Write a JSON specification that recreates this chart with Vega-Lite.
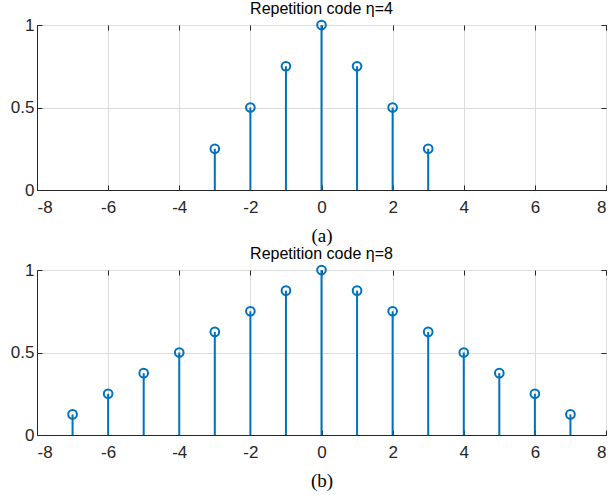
{
  "$schema": "https://vega.github.io/schema/vega-lite/v6.json",
  "background": "white",
  "padding": {"left": 9, "top": 0, "right": 0, "bottom": 0},
  "spacing": -1,
  "config": {
    "view": {"stroke": "#262626", "strokeWidth": 1},
    "axis": {
      "grid": true,
      "gridColor": "#dcdcdc",
      "gridWidth": 1,
      "domainColor": "#262626",
      "tickColor": "#262626",
      "tickSize": -5,
      "labelFont": "Liberation Sans",
      "labelFontSize": 17,
      "labelColor": "#262626",
      "titleFont": "Liberation Serif",
      "titleFontSize": 19,
      "titleFontWeight": "normal",
      "titleColor": "#000000"
    },
    "title": {"font": "Liberation Sans", "fontSize": 16, "fontWeight": "normal", "color": "#000000", "offset": -1}
  },
  "vconcat": [
    {
      "title": "Repetition code η=4",
      "width": 569,
      "height": 165,
      "data": {"values": [
        {"n": -3, "v": 0.25}, {"n": -2, "v": 0.5}, {"n": -1, "v": 0.75}, {"n": 0, "v": 1},
        {"n": 1, "v": 0.75}, {"n": 2, "v": 0.5}, {"n": 3, "v": 0.25}
      ]},
      "layer": [
        {
          "mark": {"type": "rule", "color": "#0072BD", "strokeWidth": 2},
          "encoding": {
            "x": {"field": "n", "type": "quantitative", "scale": {"domain": [-8, 8], "nice": false},
                  "axis": {"title": "(a)", "values": [-8, -6, -4, -2, 0, 2, 4, 6, 8], "labelExpr": "'' + datum.value", "labelPadding": 14, "titlePadding": 11}},
            "y": {"field": "v", "type": "quantitative", "scale": {"domain": [0, 1], "nice": false},
                  "axis": {"title": null, "values": [0, 0.5, 1], "labelExpr": "'' + datum.value", "labelPadding": 8}},
            "y2": {"datum": 0}
          }
        },
        {
          "mark": {"type": "point", "shape": "circle", "filled": false, "size": 75, "strokeWidth": 2, "color": "#0072BD", "opacity": 1},
          "encoding": {
            "x": {"field": "n", "type": "quantitative", "axis": {"orient": "top", "title": null, "labels": false, "grid": false, "domain": false, "values": [-8, -6, -4, -2, 0, 2, 4, 6, 8]}},
            "y": {"field": "v", "type": "quantitative", "axis": {"orient": "right", "title": null, "labels": false, "grid": false, "domain": false, "values": [0, 0.5, 1]}}
          }
        }
      ],
      "resolve": {"axis": {"x": "independent", "y": "independent"}}
    },
    {
      "title": "Repetition code η=8",
      "width": 569,
      "height": 165,
      "data": {"values": [
        {"n": -7, "v": 0.125}, {"n": -6, "v": 0.25}, {"n": -5, "v": 0.375}, {"n": -4, "v": 0.5},
        {"n": -3, "v": 0.625}, {"n": -2, "v": 0.75}, {"n": -1, "v": 0.875}, {"n": 0, "v": 1},
        {"n": 1, "v": 0.875}, {"n": 2, "v": 0.75}, {"n": 3, "v": 0.625}, {"n": 4, "v": 0.5},
        {"n": 5, "v": 0.375}, {"n": 6, "v": 0.25}, {"n": 7, "v": 0.125}
      ]},
      "layer": [
        {
          "mark": {"type": "rule", "color": "#0072BD", "strokeWidth": 2},
          "encoding": {
            "x": {"field": "n", "type": "quantitative", "scale": {"domain": [-8, 8], "nice": false},
                  "axis": {"title": "(b)", "values": [-8, -6, -4, -2, 0, 2, 4, 6, 8], "labelExpr": "'' + datum.value", "labelPadding": 14, "titlePadding": 11}},
            "y": {"field": "v", "type": "quantitative", "scale": {"domain": [0, 1], "nice": false},
                  "axis": {"title": null, "values": [0, 0.5, 1], "labelExpr": "'' + datum.value", "labelPadding": 8}},
            "y2": {"datum": 0}
          }
        },
        {
          "mark": {"type": "point", "shape": "circle", "filled": false, "size": 75, "strokeWidth": 2, "color": "#0072BD", "opacity": 1},
          "encoding": {
            "x": {"field": "n", "type": "quantitative", "axis": {"orient": "top", "title": null, "labels": false, "grid": false, "domain": false, "values": [-8, -6, -4, -2, 0, 2, 4, 6, 8]}},
            "y": {"field": "v", "type": "quantitative", "axis": {"orient": "right", "title": null, "labels": false, "grid": false, "domain": false, "values": [0, 0.5, 1]}}
          }
        }
      ],
      "resolve": {"axis": {"x": "independent", "y": "independent"}}
    }
  ]
}
